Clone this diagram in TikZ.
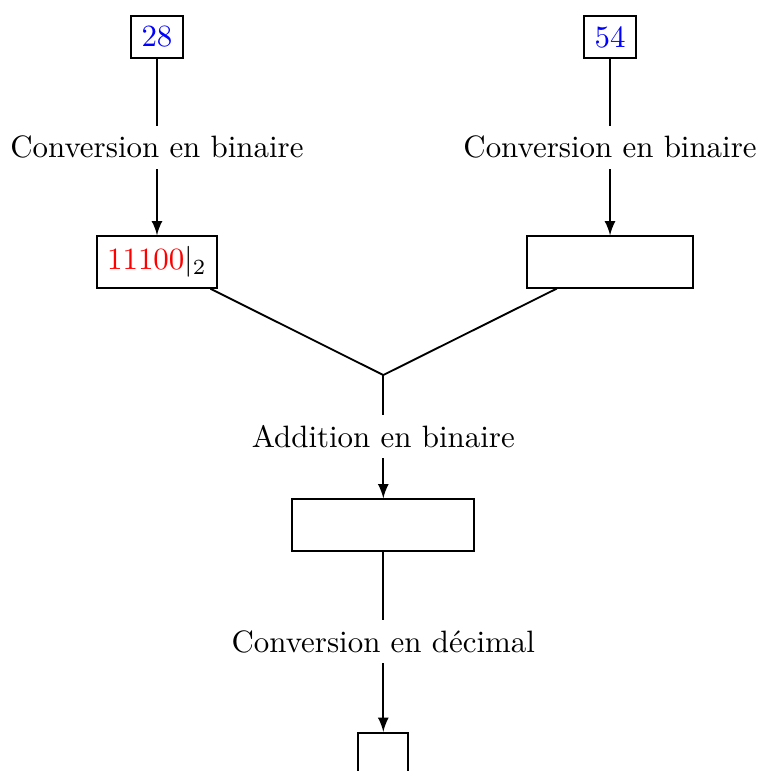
\documentclass[tikz,border=0pt]{standalone}
\begin{document}
\begin{tikzpicture}[semithick, >=latex,
    numbox/.style={draw},
    emptybox/.style={draw, minimum height=16.6pt},
    stage/.style={fill=white}]
  \useasboundingbox (0,0) rectangle (8.641,-8.766);
  % inputs
  \node[numbox] (n28) at (1.785,-0.421) {\textcolor{blue}{28}};
  \node[numbox] (n54) at (6.936,-0.421) {\textcolor{blue}{54}};
  % binary forms
  \node[numbox] (bin28) at (1.785,-2.979) {\textcolor{red}{11100}$|_2$};
  \node[emptybox, minimum width=53.5pt] (bin54) at (6.936,-2.979) {};
  \coordinate (join) at (4.358,-4.264);
  \node[emptybox, minimum width=58.9pt] (sum) at (4.358,-5.969) {};
  \node[emptybox, minimum width=16.2pt] (result) at (4.358,-8.624) {};
  \draw[->] (n28) -- node[stage] {Conversion en binaire} (bin28);
  \draw[->] (n54) -- node[stage] {Conversion en binaire} (bin54);
  \draw (bin28) -- (join);
  \draw (bin54) -- (join);
  \draw[->] (join) -- node[stage] {Addition en binaire} (sum);
  \draw[->] (sum) -- node[stage] {Conversion en d\'ecimal} (result);
\end{tikzpicture}
\end{document}
